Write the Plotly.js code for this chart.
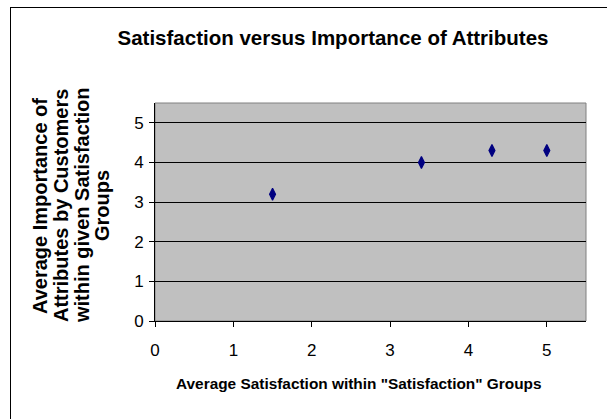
<!DOCTYPE html>
<html>
<head>
<meta charset="utf-8">
<script src="https://cdn.plot.ly/plotly-3.0.1.min.js"></script>
<style>
  html, body { margin: 0; padding: 0; background: #ffffff; overflow: hidden; }
  #chart { position: relative; width: 607px; height: 419px; overflow: hidden; }
  /* outer chart frame: only its left and top edges fall inside the page */
  #frame {
    position: absolute; left: 10px; top: 7px; width: 700px; height: 500px;
    border-left: 1px solid #000; border-top: 1px solid #000;
    pointer-events: none; z-index: 5;
  }
</style>
</head>
<body>
<div id="chart"></div>
<script>
// Average satisfaction per group and the average importance customers gave
const satisfaction = [1.5, 3.4, 4.3, 5.0];
const importance = [3.2, 4.0, 4.3, 4.3];
const tickValues = [0, 1, 2, 3, 4, 5];
const tickLabels = ['0', '1', '2', '3', '4', '5'];

const chartTitle = 'Satisfaction versus Importance of Attributes';
const xTitle = 'Average Satisfaction within "Satisfaction" Groups';
// the vertical axis title is set line by line so the lines can sit close together
const yTitleLines = [
  'Average Importance of',
  'Attributes by Customers',
  'within given Satisfaction',
  'Groups'
];

const W = 607, H = 419;
const margin = { l: 155, r: 21, t: 103, b: 98 };
const plotW = W - margin.l - margin.r;
const plotH = H - margin.t - margin.b;
// convert a pixel position on the page into paper coordinates
const px = x => (x - margin.l) / plotW;
const py = y => (H - margin.b - y) / plotH;

const font = 'Liberation Sans, Arial, sans-serif';

const trace = {
  type: 'scatter',
  mode: 'markers',
  x: satisfaction,
  y: importance,
  marker: { symbol: 'diamond-tall', size: 8.5, color: '#000080', line: { width: 1.2, color: '#000080' } },
  hoverinfo: 'x+y',
  showlegend: false
};

const axisCommon = {
  range: [0, 5.5],
  tickvals: tickValues,
  ticktext: tickLabels,
  ticks: 'outside',
  ticklen: 5,
  tickwidth: 1,
  tickcolor: '#000000',
  showline: true,
  linecolor: '#000000',
  linewidth: 1,
  zeroline: false,
  tickfont: { family: font, size: 17, color: '#000000' },
  fixedrange: true
};

const yTitleX = [40, 61, 82, 102];
const yTitleAnnotations = yTitleLines.map((line, i) => ({
  text: line,
  xref: 'paper', yref: 'paper',
  x: px(yTitleX[i]), y: py(206),
  xanchor: 'center', yanchor: 'middle',
  textangle: -90,
  showarrow: false,
  font: { family: font, size: 20, color: '#000000', weight: 'bold' }
}));

const layout = {
  width: W,
  height: H,
  margin: margin,
  paper_bgcolor: '#ffffff',
  plot_bgcolor: '#c0c0c0',
  title: {
    text: chartTitle,
    font: { family: font, size: 20.5, color: '#000000', weight: 'bold' },
    x: 333 / W,
    xref: 'container',
    xanchor: 'center',
    y: 1 - 38 / H,
    yref: 'container',
    yanchor: 'middle'
  },
  xaxis: Object.assign({}, axisCommon, { showgrid: false, ticklabelstandoff: 9 }),
  yaxis: Object.assign({}, axisCommon, {
    showgrid: true,
    gridcolor: '#000000',
    gridwidth: 1,
    ticklabelstandoff: 2
  }),
  annotations: [
    {
      text: xTitle,
      xref: 'paper', yref: 'paper',
      x: px(359), y: py(383),
      xanchor: 'center', yanchor: 'middle',
      showarrow: false,
      font: { family: font, size: 15.4, color: '#000000', weight: 'bold' }
    }
  ].concat(yTitleAnnotations),
  shapes: [
    // grey border around the plotting area (top and right edges)
    {
      type: 'rect', xref: 'paper', yref: 'paper',
      x0: 0, x1: 1, y0: 0, y1: 1,
      line: { color: '#808080', width: 1 },
      layer: 'below'
    }
  ]
};

Plotly.newPlot('chart', [trace], layout, { displayModeBar: false, staticPlot: true }).then(() => {
  const frame = document.createElement('div');
  frame.id = 'frame';
  document.getElementById('chart').appendChild(frame);
});
</script>
</body>
</html>
